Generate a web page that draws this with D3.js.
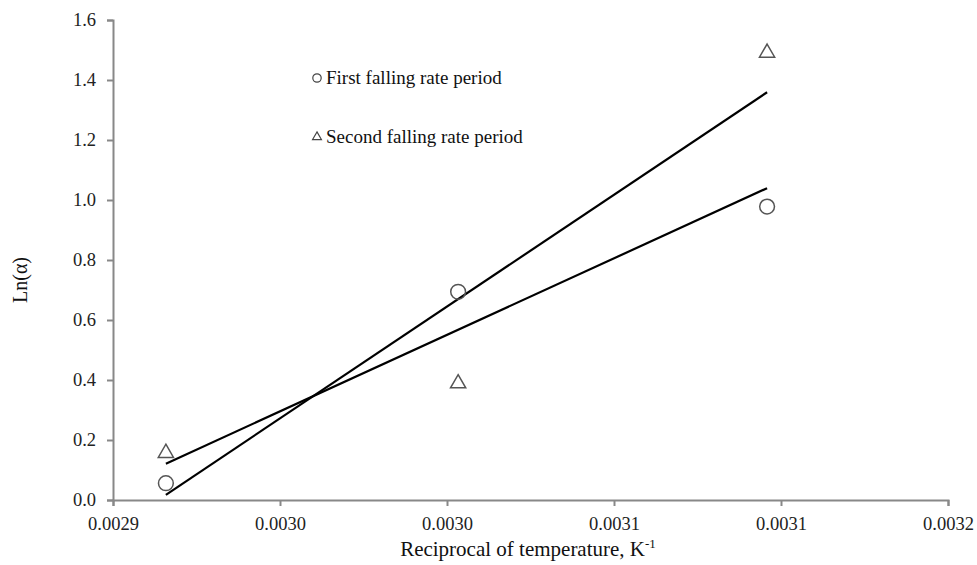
<!DOCTYPE html>
<html><head><meta charset="utf-8">
<script src="https://cdnjs.cloudflare.com/ajax/libs/d3/7.8.5/d3.min.js"></script>
<style>body{margin:0;background:#fff}svg{display:block}text{font-family:"Liberation Serif","Times New Roman",serif}</style>
</head><body><svg id="c" width="977" height="565"></svg>
<script>
const xVals = [0.002919, 0.003024, 0.003135];
const firstPeriod = [0.056, 0.694, 0.978];
const secondPeriod = [0.160, 0.392, 1.494];
const xTicks = [0.0029, 0.00296, 0.00302, 0.00308, 0.00314, 0.0032];
const yTicks = [0, 0.2, 0.4, 0.6, 0.8, 1.0, 1.2, 1.4, 1.6];
const seriesNames = ["First falling rate period", "Second falling rate period"];

const svg = d3.select("#c");
const x = d3.scaleLinear().domain([0.0029, 0.0032]).range([113, 948]);
const y = d3.scaleLinear().domain([0, 1.6]).range([500, 20]);
const axisColor = "#888";

const xa = svg.append("g").attr("transform","translate(0,500)")
  .call(d3.axisBottom(x).tickValues(xTicks).tickFormat(d3.format(".4f")).tickSize(6).tickPadding(11));
const ya = svg.append("g").attr("transform","translate(113,0)")
  .call(d3.axisLeft(y).tickValues(yTicks).tickFormat(d3.format(".1f")).tickSize(6).tickPadding(11));
[xa, ya].forEach(g => {
  g.attr("font-family", null);
  g.select(".domain").attr("stroke", axisColor).attr("stroke-width", 2);
  g.selectAll(".tick line").attr("stroke", axisColor).attr("stroke-width", 2);
  g.selectAll(".tick text").attr("fill", "#222").style("font-size", "18.5px").style("font-family", '"Liberation Serif", serif');
});

function fit(xs, ys) {
  const n = xs.length, mx = d3.mean(xs), my = d3.mean(ys);
  let sxy = 0, sxx = 0;
  for (let i = 0; i < n; i++) { sxy += (xs[i]-mx)*(ys[i]-my); sxx += (xs[i]-mx)**2; }
  const b = sxy/sxx, a = my - b*mx;
  return v => a + b*v;
}
const line = d3.line().x(d => x(d[0])).y(d => y(d[1]));
[firstPeriod, secondPeriod].forEach(ys => {
  const f = fit(xVals, ys);
  const ext = d3.extent(xVals);
  svg.append("path").attr("d", line(ext.map(v => [v, f(v)])))
    .attr("fill","none").attr("stroke","#000").attr("stroke-width",2.2);
});

const mk = "#555";
svg.append("g").selectAll("circle").data(xVals.map((v,i)=>[v, firstPeriod[i]])).join("circle")
  .attr("cx", d=>x(d[0])).attr("cy", d=>y(d[1])).attr("r", 7.4)
  .attr("fill","none").attr("stroke", mk).attr("stroke-width", 1.5);
const tri = d3.symbol().type(d3.symbolTriangle).size(100);
svg.append("g").selectAll("path").data(xVals.map((v,i)=>[v, secondPeriod[i]])).join("path")
  .attr("d", tri).attr("transform", d=>`translate(${x(d[0])},${y(d[1])+1})`)
  .attr("fill","none").attr("stroke", mk).attr("stroke-width", 1.5);

// legend
const lg = svg.append("g");
lg.append("circle").attr("cx",317).attr("cy",78).attr("r",4.2).attr("fill","none").attr("stroke","#444").attr("stroke-width",1.2);
lg.append("path").attr("d", d3.symbol().type(d3.symbolTriangle).size(34)).attr("transform","translate(317,137)")
  .attr("fill","none").attr("stroke","#444").attr("stroke-width",1.2);
lg.append("text").attr("x",326).attr("y",84).style("font-size","19px").attr("fill","#111").text(seriesNames[0]);
lg.append("text").attr("x",326).attr("y",143).style("font-size","19px").attr("fill","#111").text(seriesNames[1]);

// axis titles
const xt = svg.append("text").attr("x",528).attr("y",556).attr("text-anchor","middle").style("font-size","21px").attr("fill","#111");
xt.append("tspan").text("Reciprocal of temperature, K");
xt.append("tspan").attr("dy",-8).style("font-size","13px").text("-1");
svg.append("text").attr("transform","translate(27,280) rotate(-90)").attr("text-anchor","middle")
  .style("font-size","20px").attr("fill","#111").text("Ln(α)");
</script></body></html>
